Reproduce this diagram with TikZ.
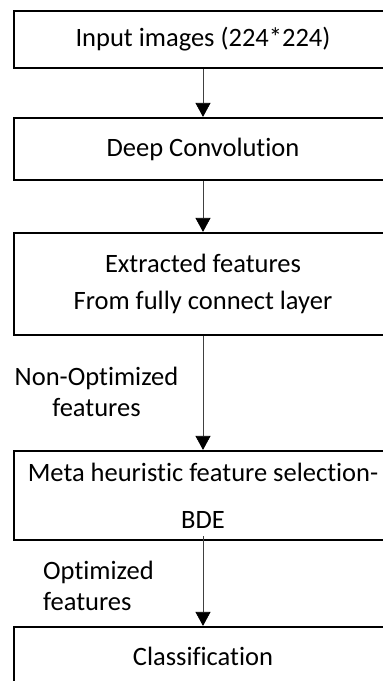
\documentclass[tikz,border=0pt]{standalone}
\usepackage{fontspec}
\setmainfont{Carlito}[Ligatures={NoCommon}]
\usetikzlibrary{arrows.meta}
\tikzset{>={Triangle[width=15pt,length=14pt,color=black]}}
\tikzset{
  stage/.style={draw, line width=2.2pt, minimum width=378pt, inner sep=0pt,
    align=center, font=\fontsize{26.5}{37}\selectfont},
  flow/.style={->, line width=0.7pt, draw=black!75},
  flowlabel/.style={inner sep=0pt, font=\fontsize{26.5}{31}\selectfont}
}

\begin{document}
\begin{tikzpicture}[x=1pt,y=-1pt]

  \useasboundingbox (0,0) rectangle (383,681);
  \clip (0,0) rectangle (383,681);

  \node[stage, minimum height=57pt]  (input) at (203,39.5)  {Input images (224*224)};
  \node[stage, minimum height=62pt]  (conv)  at (203,149)   {Deep Convolution};
  \node[stage, minimum height=102pt] (fc)    at (203,284)   {Extracted features\\From fully connect layer};
  \node[stage, minimum height=89pt]  (bde)   at (203,495.5) {Meta heuristic feature selection-\\[10pt]BDE};
  \node[stage, minimum height=58pt]  (cls)   at (203,656)   {Classification};

  \draw[flow] (input) -- (conv);
  \draw[flow] (conv) -- (fc);
  \draw[flow] (fc) -- (bde);
  \draw[flow] ([yshift=5pt]bde.south) -- (cls);

  % labels on the arrows
  \node[flowlabel, align=center] (nonopt) at (96.5,392) {Non-Optimized\\features};
  \node[flowlabel, align=left, anchor=west] (opt) at (43,586) {Optimized\\features};

\end{tikzpicture}
\end{document}
